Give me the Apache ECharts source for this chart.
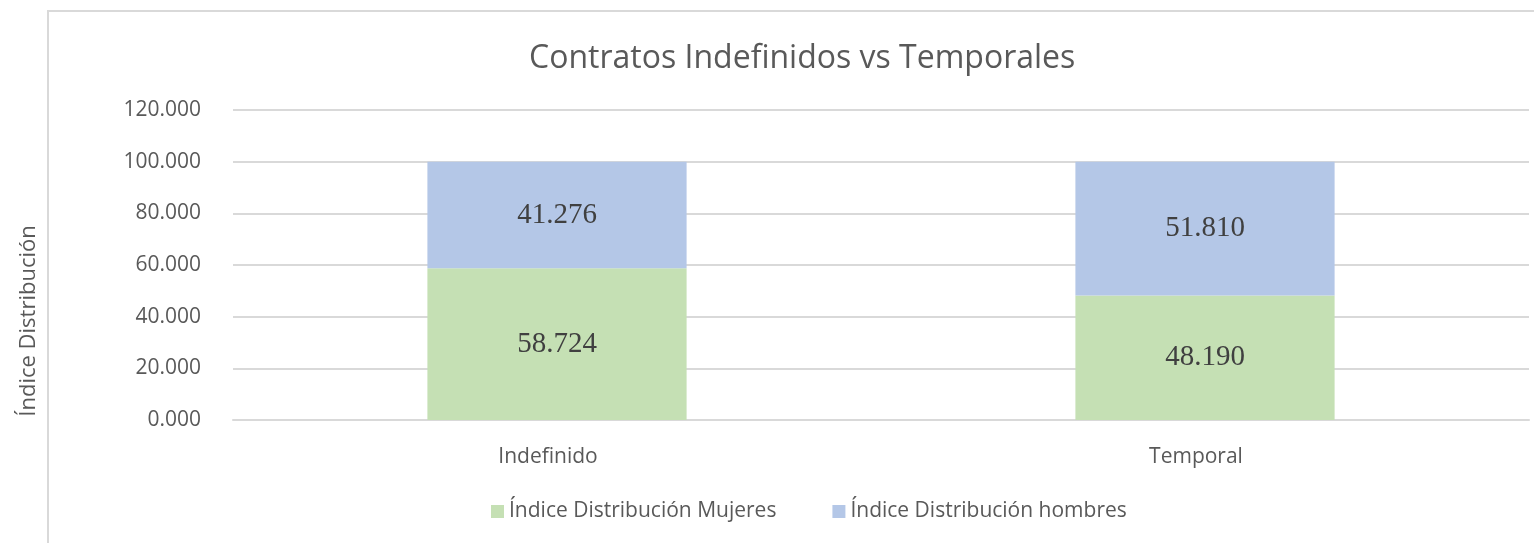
<!DOCTYPE html>
<html lang="es">
<head>
    <meta charset="UTF-8">
    <title>Contratos Indefinidos vs Temporales</title>
    <script src="https://cdn.jsdelivr.net/npm/echarts@6/dist/echarts.min.js"></script>
    <style>
        html, body { margin: 0; padding: 0; background: #fff; }
        #container { width: 1534px; height: 543px; }
    </style>
</head>
<body>
    <div id="container"></div>
    <script>
        // datos
        var categorias = ['Indefinido', 'Temporal'];
        var mujeres = [58.724, 48.190];
        var hombres = [41.276, 51.810];
        var nombresSeries = ['Índice Distribución Mujeres', 'Índice Distribución hombres'];

        var fuente = '"Open Sans", "Noto Sans", sans-serif';
        var gris = '#595959';

        var myChart = echarts.init(document.getElementById('container'));

        var etiqueta = {
            show: true,
            position: 'inside',
            fontFamily: '"Liberation Serif", serif',
            fontSize: 29,
            color: '#404040',
            formatter: function (p) { return p.value.toFixed(3); }
        };

        var option = {
            animation: false,
            backgroundColor: '#fff',
            graphic: [{
                type: 'rect',
                shape: { x: 48, y: 11, width: 1500, height: 560 },
                style: { fill: 'none', stroke: '#d9d9d9', lineWidth: 2 },
                silent: true
            }],
            title: {
                text: 'Contratos Indefinidos vs Temporales',
                left: 524,
                top: 38,
                textStyle: { fontFamily: fuente, fontSize: 32, fontWeight: 'normal', color: gris }
            },
            legend: {
                data: nombresSeries,
                bottom: 16,
                left: 486,
                itemWidth: 13,
                itemHeight: 13,
                itemGap: 56,
                icon: 'rect',
                textStyle: { fontFamily: fuente, fontSize: 21, color: gris }
            },
            grid: { left: 233, right: 5, top: 110, bottom: 123 },
            xAxis: {
                type: 'category',
                data: categorias,
                axisLine: { lineStyle: { color: '#d9d9d9', width: 2 } },
                axisTick: { show: false },
                axisLabel: { fontFamily: fuente, fontSize: 21, color: gris, margin: 27, padding: [0, 18, 0, 0] }
            },
            yAxis: {
                type: 'value',
                min: 0,
                max: 120,
                interval: 20,
                name: 'Índice Distribución',
                nameLocation: 'middle',
                nameGap: 193,
                nameRotate: 90,
                nameTextStyle: { fontFamily: fuente, fontSize: 22, color: gris, padding: [0, 112, 0, 0] },
                axisLine: { show: false },
                axisTick: { show: false },
                axisLabel: {
                    fontFamily: fuente, fontSize: 21, color: gris, margin: 32,
                    formatter: function (v) { return v.toFixed(3); }
                },
                splitLine: { lineStyle: { color: '#d9d9d9', width: 2 } }
            },
            series: [{
                name: nombresSeries[0],
                type: 'bar',
                stack: 'total',
                barWidth: '40%',
                data: mujeres,
                itemStyle: { color: '#c5e0b4' },
                label: etiqueta
            }, {
                name: nombresSeries[1],
                type: 'bar',
                stack: 'total',
                barWidth: '40%',
                data: hombres,
                itemStyle: { color: '#b4c7e7' },
                label: etiqueta
            }]
        };

        myChart.setOption(option);
    </script>
</body>
</html>
